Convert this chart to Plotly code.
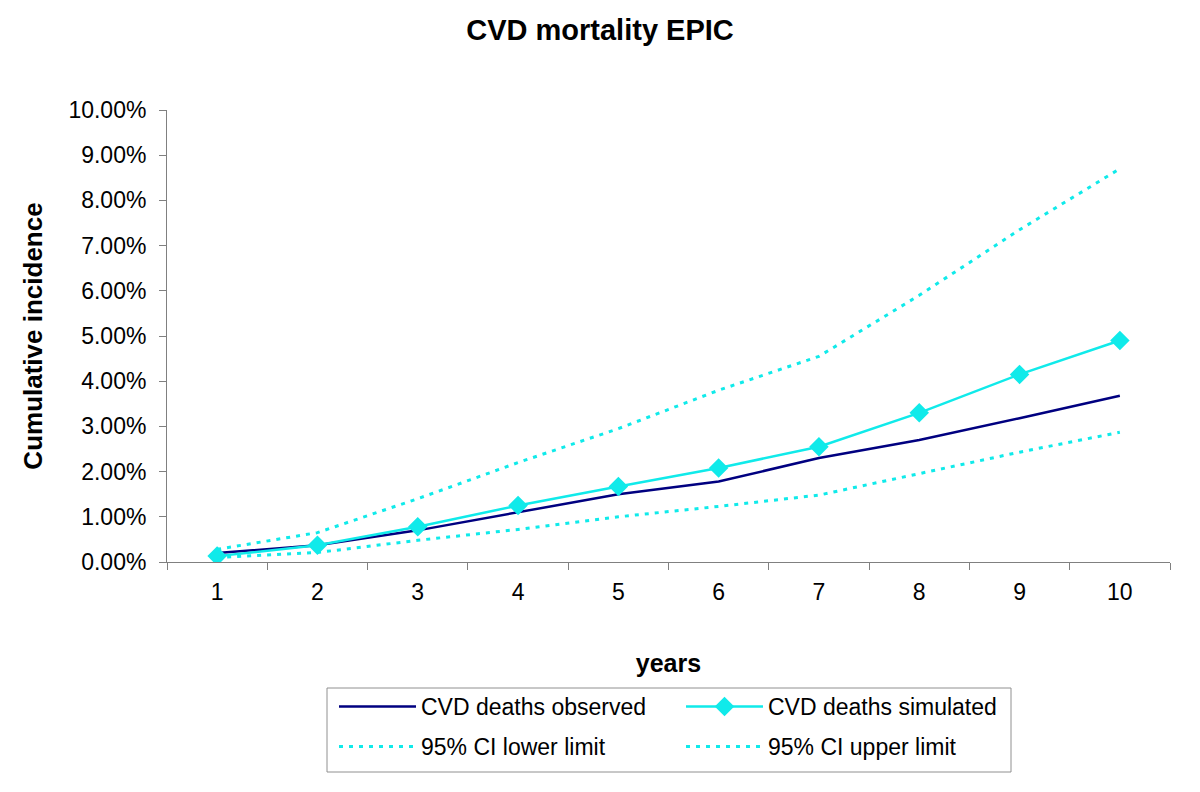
import plotly.graph_objects as go

years = ["1", "2", "3", "4", "5", "6", "7", "8", "9", "10"]
observed = [0.0020, 0.0037, 0.0070, 0.0110, 0.0150, 0.0178, 0.0230, 0.0270, 0.0318, 0.0368]
simulated = [0.0013, 0.0037, 0.0078, 0.0125, 0.0167, 0.0208, 0.0255, 0.0330, 0.0415, 0.0490]
ci_lower = [0.0010, 0.0021, 0.0048, 0.0072, 0.0100, 0.0123, 0.0148, 0.0196, 0.0243, 0.0287]
ci_upper = [0.0028, 0.0065, 0.0140, 0.0220, 0.0295, 0.0380, 0.0455, 0.0590, 0.0735, 0.0870]

CYAN = "#10EAEA"
NAVY = "#000080"
GRAY = "#808080"
FONT = "Liberation Sans, Arial, sans-serif"
DOT = "4px,6px"

# plot area in pixels
L, T, R, B = 167, 110, 1170, 562
PW, PH = R - L, B - T


def px_x(x):
    return (x - L) / PW


def px_y(y):
    return (B - y) / PH


fig = go.Figure()
fig.add_trace(go.Scatter(x=years, y=observed, name="CVD deaths observed", mode="lines",
                         line=dict(color=NAVY, width=2.5), legend="legend"))
fig.add_trace(go.Scatter(x=years, y=simulated, name="CVD deaths simulated", mode="lines+markers",
                         line=dict(color=CYAN, width=2.5),
                         marker=dict(symbol="diamond", size=15, color=CYAN), legend="legend"))
fig.add_trace(go.Scatter(x=years, y=ci_lower, name="95% CI lower limit", mode="lines",
                         line=dict(color=CYAN, width=3, dash=DOT), legend="legend2"))
fig.add_trace(go.Scatter(x=years, y=ci_upper, name="95% CI upper limit", mode="lines",
                         line=dict(color=CYAN, width=3, dash=DOT), legend="legend2"))

legend_common = dict(orientation="h", xanchor="left", yanchor="top",
                     entrywidth=255, entrywidthmode="pixels", itemwidth=77,
                     borderwidth=0, bgcolor="rgba(0,0,0,0)",
                     font=dict(size=23, family=FONT, color="black"),
                     traceorder="normal")

fig.update_layout(
    width=1200, height=792,
    paper_bgcolor="white", plot_bgcolor="white",
    margin=dict(l=L, r=1200 - R, t=T, b=792 - B),
    font=dict(family=FONT, color="black", size=23),
    title=dict(text="<b>CVD mortality EPIC</b>", x=0.5, xanchor="center",
               y=1 - 30 / 792, yanchor="middle", font=dict(size=29, family=FONT)),
    showlegend=True,
    legend=dict(x=px_x(334), y=px_y(685), **legend_common),
    legend2=dict(x=px_x(334), y=px_y(725), **legend_common),
    shapes=[dict(type="rect", xref="paper", yref="paper",
                 x0=px_x(327), x1=px_x(1011), y0=px_y(772), y1=px_y(688),
                 line=dict(color="#909090", width=1), fillcolor="rgba(0,0,0,0)")],
)
fig.update_xaxes(
    type="category", range=[-0.5, 9.5], tickson="boundaries",
    ticks="outside", ticklen=7, tickcolor=GRAY,
    showline=True, linecolor=GRAY, linewidth=1, showgrid=False,
    tickfont=dict(size=23, family=FONT), ticklabelstandoff=9,
    title=dict(text="<b>years</b>", font=dict(size=25, family=FONT), standoff=50),
)
fig.update_yaxes(
    range=[0, 0.1], dtick=0.01, tickformat=".2%",
    ticks="outside", ticklen=7, tickcolor=GRAY,
    showline=True, linecolor=GRAY, linewidth=1, showgrid=False, zeroline=False,
    tickfont=dict(size=23, family=FONT), ticklabelstandoff=8,
    title=dict(text="<b>Cumulative incidence</b>", font=dict(size=26, family=FONT), standoff=18),
)

fig.write_html("out.html", config={"displayModeBar": False},
               post_script="document.body.style.margin='0px';")
